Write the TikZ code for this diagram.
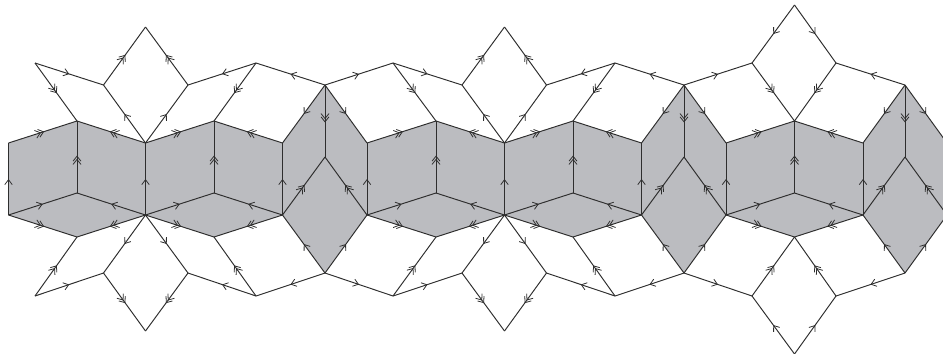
\documentclass[tikz,border=0pt]{standalone}
\usepackage{tikz}
\usetikzlibrary{arrows.meta, decorations.markings}
\definecolor{tile-gray}{HTML}{BBBCC0}
\definecolor{tile-line}{HTML}{2E2E2E}
\begin{document}
\begin{tikzpicture}[
    x=0.02cm, y=-0.02cm,
    edge/.style={draw=tile-line, line width=0.55pt},
    onetip/.style={edge, postaction={decorate}, decoration={markings, mark=at position 0.5 with {\arrow[tile-line, line width=0.45pt]{Straight Barb[length=1mm, width=1.5mm]}}}},
    twotip/.style={edge, postaction={decorate}, decoration={markings, mark=at position 0.52 with {\arrow[tile-line, line width=0.45pt]{Straight Barb[length=1mm, width=1.6mm, sep=-0.55mm] Straight Barb[length=1mm, width=1.6mm]}}}}
]
    \useasboundingbox (0,0) rectangle (943,353);
    \clip (0,0) rectangle (943,353);

    % rows of the band
    \foreach \i/\x in {1/8.5, 2/145.5, 3/282.5, 4/367, 5/504.5, 6/641.5, 7/726, 8/863, 9/947} {
        \coordinate (u\i) at (\x,143);
        \coordinate (d\i) at (\x,215);
    }
    \foreach \i/\x in {1/77, 2/214, 3/436, 4/573, 5/794.5} {
        \coordinate (k\i) at (\x,121);
        \coordinate (m\i) at (\x,193);
        \coordinate (b\i) at (\x,237);
    }
    % gems
    \foreach \i/\x in {1/325, 2/684, 3/905} {
        \coordinate (g\i) at (\x,85);
        \coordinate (c\i) at (\x,157);
        \coordinate (h\i) at (\x,273);
    }
    % white rows
    \foreach \i/\x in {1/35, 2/256, 3/393, 4/615, 5/752, 6/836} {
        \coordinate (w\i) at (\x,63);
        \coordinate (v\i) at (\x,296);
    }
    \foreach \i/\x in {1/103.5, 2/188, 3/462, 4/546.5} {
        \coordinate (r\i) at (\x,85);
        \coordinate (s\i) at (\x,273);
    }
    \foreach \i/\x/\t/\l in {1/145.5/27/331, 2/504.5/27/331, 3/794.5/5/354} {
        \coordinate (a\i) at (\x,\t);
        \coordinate (z\i) at (\x,\l);
    }

    \fill[tile-gray] (u1) -- (k1) -- (u2) -- (k2) -- (u3) -- (g1) -- (u4) -- (k3) -- (u5) -- (k4) -- (u6) -- (g2) -- (u7) -- (k5) -- (u8) -- (g3) -- (u9)
        -- (d9) -- (h3) -- (d8) -- (b5) -- (d7) -- (h2) -- (d6) -- (b4) -- (d5) -- (b3) -- (d4) -- (h1) -- (d3) -- (b2) -- (d2) -- (b1) -- (d1) -- cycle;

    % single tips
    \foreach \from/\to in {
        w1/r1, u2/r1, u2/r2, w2/r2, g1/w2, g1/u3, g1/w3, w3/r3, g1/u4,
        u5/r3, u5/r4, w4/r4, g2/w4, g2/u6, g2/w5, g2/u7, a3/w5, a3/w6, g3/w6, g3/u8, g3/u9,
        d1/u1, d2/u2, d3/u3, d4/u4, d5/u5, d6/u6, d7/u7, d8/u8,
        d1/m1, d2/m1, d2/m2, d3/m2, d4/m3, d5/m3, d5/m4, d6/m4, d7/m5, d8/m5,
        v1/s1, d2/s1, d2/s2, v2/s2, h1/v2, h1/d3, h1/v3, h1/d4, v3/s3,
        d5/s3, d5/s4, v4/s4, h2/v4, h2/d6, h2/v5, h2/d7, z3/v5, z3/v6, h3/v6, h3/d8, h3/d9}
        \draw[onetip] (\from) -- (\to);

    % double tips
    \foreach \from/\to in {
        w1/k1, r1/a1, r2/a1, w2/k2, w3/k3, r3/a2, r4/a2, w4/k4, w5/k5, w6/k5,
        u1/k1, u2/k1, u2/k2, u3/k2, u4/k3, u5/k3, u5/k4, u6/k4, u7/k5, u8/k5,
        m1/k1, m2/k2, m3/k3, m4/k4, m5/k5,
        g1/c1, g2/c2, g3/c3, d3/c1, d4/c1, d6/c2, d7/c2, d8/c3, d9/c3,
        d1/b1, d2/b1, d2/b2, d3/b2, d4/b3, d5/b3, d5/b4, d6/b4, d7/b5, d8/b5,
        v1/b1, s1/z1, s2/z1, v2/b2, v3/b3, s3/z2, s4/z2, v4/b4, v5/b5, v6/b5}
        \draw[twotip] (\from) -- (\to);
\end{tikzpicture}
\end{document}
